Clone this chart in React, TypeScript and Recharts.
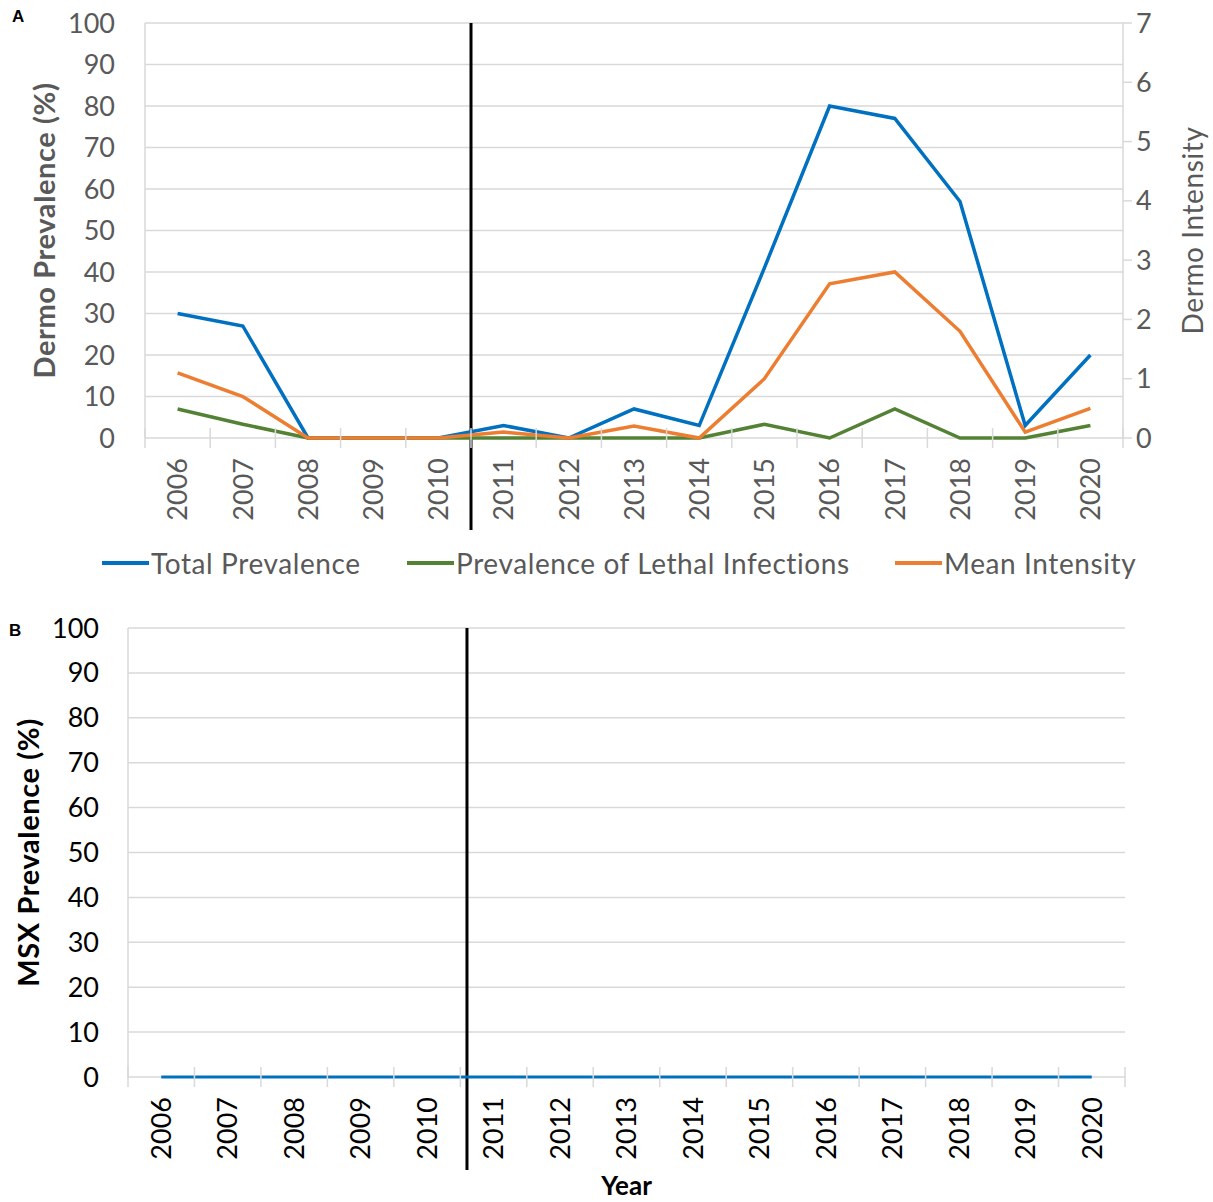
import React from 'react';
import { LineChart, Line, XAxis, YAxis, CartesianGrid, ReferenceLine, Label } from 'recharts';

// Jahre (Kategorien) und Reihenwerte
const years = ['2006', '2007', '2008', '2009', '2010', '2011', '2012', '2013', '2014', '2015', '2016', '2017', '2018', '2019', '2020'];
const totalPrevalence = [30, 27, 0, 0, 0, 3, 0, 7, 3, 41, 80, 77, 57, 3, 20];
const lethalPrevalence = [7, 3.3, 0, 0, 0, 0, 0, 0, 0, 3.3, 0, 7, 0, 0, 3];
const meanIntensity = [1.1, 0.7, 0, 0, 0, 0.1, 0, 0.2, 0, 1.0, 2.6, 2.8, 1.8, 0.1, 0.5];
const msxPrevalence = [0, 0, 0, 0, 0, 0, 0, 0, 0, 0, 0, 0, 0, 0, 0];

const prevalenceTicks = [0, 10, 20, 30, 40, 50, 60, 70, 80, 90, 100];
const intensityTicks = [0, 1, 2, 3, 4, 5, 6, 7];
const yearIndexTicks = years.map((_, i) => i);
const dividerA = 4.5;
const dividerB = 4.6;

const dermoData = years.map((year, i) => ({
  i,
  year,
  total: totalPrevalence[i],
  lethal: lethalPrevalence[i],
  intensity: meanIntensity[i],
}));
const msxData = years.map((year, i) => ({ i, year, msx: msxPrevalence[i] }));

const FONT = 'Lato, "Open Sans", sans-serif';
const GREY = '#595959';
const GRID = '#d9d9d9';
const BLUE = '#0070C0';
const GREEN = '#548235';
const ORANGE = '#ED7D31';

const W = 1213;
// chart A geometry
const A_H = 540;
const A_LEFT = 145;
const A_RIGHT = 90;
const A_XH = 102;
const STEP_A = (W - A_LEFT - A_RIGHT) / years.length;
// chart B geometry
const B_H = 602;
const B_LEFT = 128;
const B_RIGHT = 88;
const B_XH = 125;
const STEP_B = (W - B_LEFT - B_RIGHT) / years.length;

const YearTick = (props: any) => {
  const { x, y, payload, index, step, color } = props;
  const last = index === years.length - 1;
  return (
    <g>
      <line x1={x - step / 2} x2={x - step / 2} y1={y - 10} y2={y + 10} stroke={GRID} strokeWidth={1.5} />
      {last && <line x1={x + step / 2} x2={x + step / 2} y1={y - 10} y2={y + 10} stroke={GRID} strokeWidth={1.5} />}
      <text
        transform={`translate(${x},${y}) rotate(-90)`}
        x={-20}
        dy="0.36em"
        textAnchor="end"
        fill={color}
        fontSize={27}
        fontFamily={FONT}
      >
        {years[payload.value]}
      </text>
    </g>
  );
};

const Divider = (extend: number) => (props: any) => {
  const top = Math.min(props.y1, props.y2);
  const bottom = Math.max(props.y1, props.y2);
  return <line x1={props.x1} x2={props.x2} y1={top} y2={bottom + extend} stroke="#000" strokeWidth={3} />;
};

const VerticalTitle = (text: string, dx: number, color: string, bold: boolean, size: number, spacing: number) => (props: any) => {
  const vb = props.viewBox;
  const cx = vb.x + dx;
  const cy = vb.y + vb.height / 2;
  return (
    <text
      x={cx}
      y={cy}
      transform={`rotate(-90,${cx},${cy})`}
      textAnchor="middle"
      dominantBaseline="central"
      fill={color}
      fontSize={size}
      letterSpacing={spacing}
      fontWeight={bold ? 700 : 400}
      fontFamily={FONT}
    >
      {text}
    </text>
  );
};

const legendItems = [
  { label: 'Total Prevalence', color: BLUE, left: 102 },
  { label: 'Prevalence of Lethal Infections', color: GREEN, left: 407 },
  { label: 'Mean Intensity', color: ORANGE, left: 895 },
];

export default function App() {
  const tickA = { fill: GREY, fontSize: 27, fontFamily: FONT };
  const tickB = { fill: '#000', fontSize: 27, fontFamily: FONT };

  return (
    <div style={{ position: 'absolute', left: 0, top: 0, width: W, height: 1202, background: '#fff', fontFamily: FONT }}>
      <div style={{ position: 'absolute', left: 12, top: 7, fontSize: 17, fontWeight: 700, fontFamily: '"Liberation Sans", Arial, sans-serif' }}>A</div>
      <div style={{ position: 'absolute', left: 9, top: 621, fontSize: 17, fontWeight: 700, fontFamily: '"Liberation Sans", Arial, sans-serif' }}>B</div>

      {/* A: Dermo */}
      <div style={{ position: 'absolute', left: 0, top: 0 }}>
        <LineChart width={W} height={A_H} data={dermoData} margin={{ top: 23, right: 0, bottom: 0, left: 0 }}>
          <CartesianGrid vertical={false} stroke={GRID} strokeWidth={1.5} yAxisId="left" />
          <XAxis
            dataKey="i"
            type="number"
            domain={[-0.5, years.length - 0.5]}
            ticks={yearIndexTicks}
            interval={0}
            height={A_XH}
            tickSize={0}
            tickMargin={0}
            tickLine={false}
            axisLine={false}
            tick={(p: any) => <YearTick {...p} step={STEP_A} color={GREY} />}
          />
          <YAxis
            yAxisId="left"
            width={A_LEFT}
            domain={[0, 100]}
            ticks={prevalenceTicks}
            interval={0}
            tickLine={false}
            tickSize={0}
            tickMargin={30}
            axisLine={{ stroke: GRID, strokeWidth: 1.5 }}
            tick={tickA}
          >
            <Label content={VerticalTitle('Dermo Prevalence (%)', 43, GREY, true, 29, 0.6)} />
          </YAxis>
          <YAxis
            yAxisId="right"
            orientation="right"
            width={A_RIGHT}
            domain={[0, 7]}
            ticks={intensityTicks}
            interval={0}
            tickSize={9}
            tickMargin={4}
            tickLine={{ stroke: GRID, strokeWidth: 1.5 }}
            axisLine={{ stroke: GRID, strokeWidth: 1.5 }}
            tick={tickA}
          >
            <Label content={VerticalTitle('Dermo Intensity', 69, GREY, false, 28, 0.6)} />
          </YAxis>
          <ReferenceLine yAxisId="left" x={dividerA} shape={Divider(92)} />
          <Line yAxisId="left" dataKey="total" stroke={BLUE} strokeWidth={3.5} dot={false} isAnimationActive={false} />
          <Line yAxisId="left" dataKey="lethal" stroke={GREEN} strokeWidth={3.5} dot={false} isAnimationActive={false} />
          <Line yAxisId="right" dataKey="intensity" stroke={ORANGE} strokeWidth={3.5} dot={false} isAnimationActive={false} />
        </LineChart>
      </div>

      {/* legend of A */}
      {legendItems.map((item) => (
        <div
          key={item.label}
          style={{ position: 'absolute', left: item.left, top: 546, height: 34, display: 'flex', alignItems: 'center', color: GREY, fontSize: 28, letterSpacing: 0.6, whiteSpace: 'nowrap' }}
        >
          <span style={{ display: 'inline-block', width: 47, height: 4, background: item.color, marginRight: 2 }} />
          {item.label}
        </div>
      ))}

      {/* B: MSX */}
      <div style={{ position: 'absolute', left: 0, top: 600 }}>
        <LineChart width={W} height={B_H} data={msxData} margin={{ top: 28, right: B_RIGHT, bottom: 0, left: 0 }}>
          <CartesianGrid vertical={false} stroke={GRID} strokeWidth={1.5} />
          <XAxis
            dataKey="i"
            type="number"
            domain={[-0.5, years.length - 0.5]}
            ticks={yearIndexTicks}
            interval={0}
            height={B_XH}
            tickSize={0}
            tickMargin={0}
            tickLine={false}
            axisLine={false}
            tick={(p: any) => <YearTick {...p} step={STEP_B} color="#000" />}
          >
            <Label
              content={(p: any) => (
                <text
                  x={p.viewBox.x + p.viewBox.width / 2}
                  y={p.viewBox.y + 108}
                  textAnchor="middle"
                  dominantBaseline="central"
                  fill="#000"
                  fontSize={26}
                  fontWeight={700}
                  fontFamily={FONT}
                >
                  Year
                </text>
              )}
            />
          </XAxis>
          <YAxis
            width={B_LEFT}
            domain={[0, 100]}
            ticks={prevalenceTicks}
            interval={0}
            tickLine={false}
            tickSize={0}
            tickMargin={29}
            axisLine={{ stroke: GRID, strokeWidth: 1.5 }}
            tick={tickB}
          >
            <Label content={VerticalTitle('MSX Prevalence (%)', 27, '#000', true, 29, 0.6)} />
          </YAxis>
          <ReferenceLine x={dividerB} shape={Divider(93)} />
          <Line dataKey="msx" stroke={BLUE} strokeWidth={3} dot={false} isAnimationActive={false} />
        </LineChart>
      </div>
    </div>
  );
}
